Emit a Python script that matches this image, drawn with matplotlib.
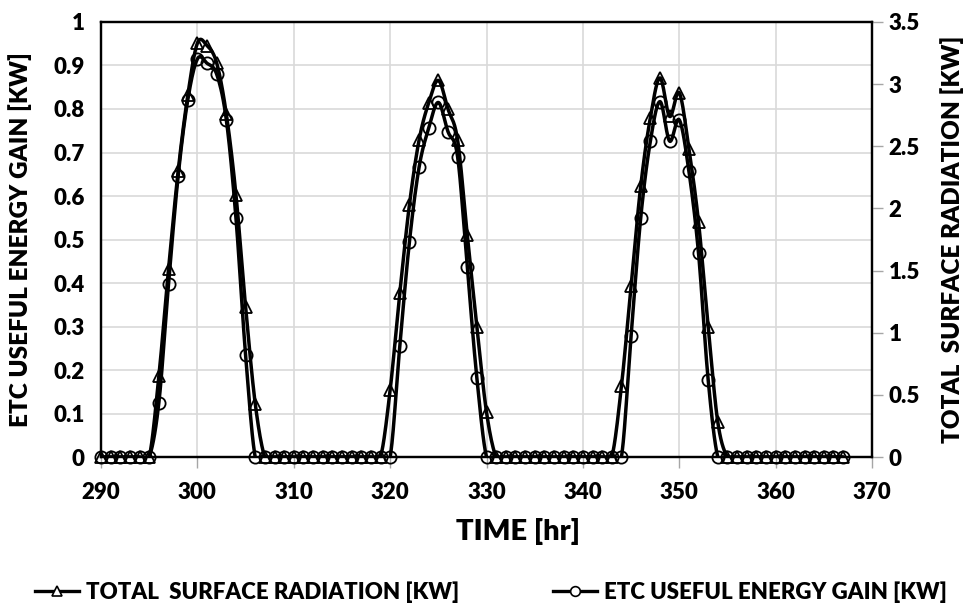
import numpy as np
import matplotlib
matplotlib.use("Agg")
import matplotlib.pyplot as plt
from matplotlib.lines import Line2D

plt.rcParams['font.family'] = ['Lato', 'DejaVu Sans']
plt.rcParams['font.weight'] = 'heavy'

# ---- data ----
time_hr = list(range(290, 368))

etc_gain = ([0]*6 +
            [0.125, 0.397, 0.646, 0.821, 0.915, 0.905, 0.88, 0.775, 0.549, 0.234] +
            [0]*15 +
            [0.255, 0.495, 0.666, 0.756, 0.815, 0.748, 0.69, 0.436, 0.181] +
            [0]*15 +
            [0.278, 0.55, 0.726, 0.817, 0.726, 0.775, 0.657, 0.468, 0.177] +
            [0]*14)

total_rad = ([0]*6 +
             [0.65, 1.51, 2.30, 2.91, 3.33, 3.31, 3.17, 2.76, 2.11, 1.21, 0.43] +
             [0]*13 +
             [0.54, 1.32, 2.03, 2.55, 2.85, 3.03, 2.80, 2.55, 1.79, 1.05, 0.36] +
             [0]*13 +
             [0.57, 1.38, 2.18, 2.73, 3.05, 2.74, 2.93, 2.48, 1.89, 1.05, 0.28] +
             [0]*13)

x_ticks = list(range(290, 371, 10))
left_ticks = [0, 0.1, 0.2, 0.3, 0.4, 0.5, 0.6, 0.7, 0.8, 0.9, 1]
left_labels = ['0', '0.1', '0.2', '0.3', '0.4', '0.5', '0.6', '0.7', '0.8', '0.9', '1']
right_ticks = [0, 0.5, 1, 1.5, 2, 2.5, 3, 3.5]
right_labels = ['0', '0.5', '1', '1.5', '2', '2.5', '3', '3.5']


def smooth(x, y, n=16):
    """Excel-like smoothed line (Catmull-Rom style Bezier) through the data points."""
    P = np.column_stack([np.asarray(x, float), np.asarray(y, float)])
    E = np.vstack([P[0], P, P[-1]])
    ts = np.linspace(0, 1, n, endpoint=False)[:, None]
    segs = []
    for i in range(1, len(E) - 2):
        p0, p1, p2, p3 = E[i - 1], E[i], E[i + 1], E[i + 2]
        c1 = p1 + (p2 - p0) / 6.0
        c2 = p2 - (p3 - p1) / 6.0
        b = ((1 - ts) ** 3) * p1 + 3 * ((1 - ts) ** 2) * ts * c1 + 3 * (1 - ts) * ts ** 2 * c2 + ts ** 3 * p2
        segs.append(b)
    segs.append(P[-1][None, :])
    out = np.vstack(segs)
    return out[:, 0], out[:, 1]


fig = plt.figure(figsize=(9.66, 6.07), dpi=100)
ax = fig.add_axes([0.1046, 0.247, 0.7981, 0.7168])
ax2 = ax.twinx()

lw = 2.5
ms = 8.8
mew = 1.3

sx, sy = smooth(time_hr, etc_gain)
ax.plot(sx, sy, color='black', lw=lw, solid_capstyle='round', zorder=3)
ax.plot(time_hr, etc_gain, ls='none', marker='o', ms=ms, mfc='none', mec='black', mew=mew,
        clip_on=False, zorder=4)

tx, ty = smooth(time_hr, total_rad)
ax2.plot(tx, ty, color='black', lw=lw, solid_capstyle='round', zorder=3)
ax2.plot(time_hr, total_rad, ls='none', marker='^', ms=ms, mfc='none', mec='black', mew=mew,
         clip_on=False, zorder=4)

ax.set_xlim(290, 370)
ax.set_ylim(0, 1)
ax2.set_ylim(0, 3.5)

ax.set_xticks(x_ticks)
ax.set_xticklabels([str(v) for v in x_ticks])
ax.set_yticks(left_ticks)
ax.set_yticklabels(left_labels)
ax2.set_yticks(right_ticks)
ax2.set_yticklabels(right_labels)

ax.grid(True, color='#d9d9d9', lw=1.2, zorder=0)
ax.set_axisbelow(True)

fs = 16
ax.tick_params(axis='y', length=0, pad=12, labelsize=fs)
ax.tick_params(axis='x', length=8, color='#a6a6a6', width=1, pad=10, labelsize=fs)
ax2.tick_params(axis='y', length=8, color='#a6a6a6', width=1, pad=4, labelsize=fs)
for a in (ax, ax2):
    for lab in a.get_xticklabels() + a.get_yticklabels():
        lab.set_fontweight('heavy')
for s in list(ax.spines.values()) + list(ax2.spines.values()):
    s.set_linewidth(1.6)
    s.set_color('black')

ax.set_ylabel('ETC USEFUL ENERGY GAIN [KW]', fontsize=17.5, fontweight='heavy')
ax.yaxis.set_label_coords(-0.089, 0.5)
ax2.set_ylabel('TOTAL  SURFACE RADIATION [KW]', fontsize=17.5, fontweight='heavy')
ax2.yaxis.set_label_coords(1.088, 0.5)
ax.set_xlabel('TIME [hr]', fontsize=21, fontweight='heavy')
ax.xaxis.set_label_coords(0.541, -0.172)
ax.xaxis.label.set_va('center')

h1 = Line2D([], [], color='black', lw=2.4, marker='^', ms=7, mfc='white', mec='black', mew=1.2)
h2 = Line2D([], [], color='black', lw=2.4, marker='o', ms=7, mfc='white', mec='black', mew=1.2)
fig.legend([h1, h2], ['TOTAL  SURFACE RADIATION [KW]', 'ETC USEFUL ENERGY GAIN [KW]'],
           loc='lower center', bbox_to_anchor=(0.508, -0.026), ncol=2, frameon=False,
           prop={'size': 16, 'weight': 'heavy'}, handlelength=2.0, handletextpad=0.3,
           columnspacing=4.2)

fig.savefig('out.png', dpi=100)
